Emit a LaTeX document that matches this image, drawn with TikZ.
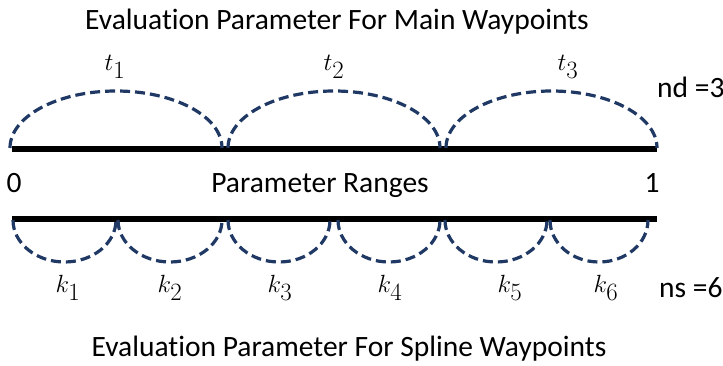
\documentclass[tikz,border=0pt]{standalone}
\usepackage{fontspec}
\setmainfont[Ligatures=NoCommon]{Carlito}
\definecolor{arcblue}{RGB}{31,56,100}
\tikzset{
  bar/.style={line width=6pt, black},
  arcline/.style={arcblue, line width=3.2pt, dash pattern=on 10pt off 5pt},
  txt/.style={inner sep=0pt, anchor=base, font=\fontsize{29.5}{34}\selectfont},
  lbl/.style={inner sep=0pt, anchor=center, font=\fontsize{36}{40}\selectfont},
}
\begin{document}
\begin{tikzpicture}[x=1pt,y=1pt]
\useasboundingbox (0,0) rectangle (723,365);
% bars
\coordinate (tl) at (12,216);
\coordinate (tr) at (657,216);
\coordinate (bl) at (12,146);
\coordinate (br) at (657,146);
\draw[bar] (tl) -- (tr);
\draw[bar] (bl) -- (br);
% top arcs
\coordinate (ta1) at (10,217);
\coordinate (ta2) at (228,217);
\coordinate (ta3) at (446,217);
\draw[arcline] (ta1) arc[start angle=180,end angle=0,x radius=106pt,y radius=57pt];
\draw[arcline] (ta2) arc[start angle=180,end angle=0,x radius=106pt,y radius=57pt];
\draw[arcline] (ta3) arc[start angle=180,end angle=0,x radius=105.5pt,y radius=57pt];
% bottom arcs
\coordinate (ba1) at (13,145);
\coordinate (ba2) at (118,145);
\coordinate (ba3) at (228,145);
\coordinate (ba4) at (338,145);
\coordinate (ba5) at (445,145);
\coordinate (ba6) at (550,145);
\draw[arcline] (ba1) arc[start angle=180,end angle=360,x radius=51.5pt,y radius=42pt];
\draw[arcline] (ba2) arc[start angle=180,end angle=360,x radius=52pt,y radius=42pt];
\draw[arcline] (ba3) arc[start angle=180,end angle=360,x radius=51pt,y radius=42pt];
\draw[arcline] (ba4) arc[start angle=180,end angle=360,x radius=51pt,y radius=42pt];
\draw[arcline] (ba5) arc[start angle=180,end angle=360,x radius=51pt,y radius=42pt];
\draw[arcline] (ba6) arc[start angle=180,end angle=360,x radius=49pt,y radius=42pt];
% texts
\node[txt] (title1) at (337,335) {Evaluation Parameter For Main Waypoints};
\node[txt] (title2) at (349,9) {Evaluation Parameter For Spline Waypoints};
\node[txt] (pr) at (320,173) {Parameter Ranges};
\node[txt] (zero) at (14,173) {0};
\node[txt] (one) at (652,173) {1};
\node[txt, anchor=base west] (nd) at (657,268) {nd =3};
\node[txt, anchor=base west] (ns) at (659,68) {ns =6};
% t labels
\node[lbl] (t1) at (115,298) {$t_1$};
\node[lbl] (t2) at (334,298) {$t_2$};
\node[lbl] (t3) at (568,298) {$t_3$};
% k labels
\node[lbl] (k1) at (68,77) {$k_1$};
\node[lbl] (k2) at (170,77) {$k_2$};
\node[lbl] (k3) at (280,77) {$k_3$};
\node[lbl] (k4) at (390,77) {$k_4$};
\node[lbl] (k5) at (510,77) {$k_5$};
\node[lbl] (k6) at (606,77) {$k_6$};
\end{tikzpicture}
\end{document}
